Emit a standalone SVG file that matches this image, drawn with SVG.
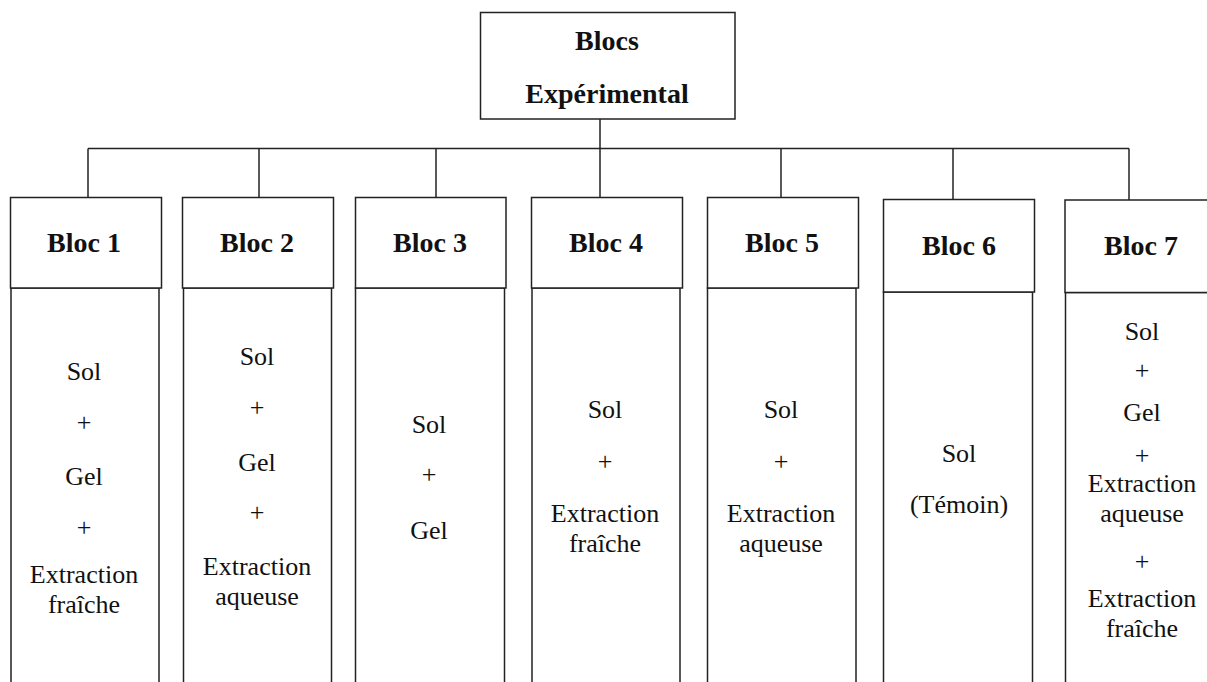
<svg xmlns="http://www.w3.org/2000/svg" width="1207" height="682" viewBox="0 0 1207 682">
<style>
rect{fill:#fff;stroke:#222;stroke-width:1.5}
.c line{stroke:#222;stroke-width:1.5}
text{font-family:"Liberation Serif","Times New Roman",serif;fill:#111;text-anchor:middle}
.h{font-weight:bold;font-size:28px}
.b{font-size:26px}
</style>
<rect x="0" y="0" width="1207" height="682" style="stroke:none"/>
<g class="c" id="connectors">
<line x1="600" y1="119" x2="600" y2="197.5"/>
<line x1="88" y1="148.5" x2="1129" y2="148.5"/>
<line x1="88" y1="148.5" x2="88" y2="197.5"/>
<line x1="259" y1="148.5" x2="259" y2="197.5"/>
<line x1="436" y1="148.5" x2="436" y2="197.5"/>
<line x1="781" y1="148.5" x2="781" y2="197.5"/>
<line x1="953" y1="148.5" x2="953" y2="199.5"/>
<line x1="1129" y1="148.5" x2="1129" y2="200"/>
</g>
<g id="root">
<rect x="480.5" y="12.5" width="254.5" height="106.5"/>
<text class="h" x="607" y="50">Blocs</text>
<text class="h" x="607" y="103">Expérimental</text>
</g>
<g id="bloc1">
<rect x="11" y="288" width="148" height="410"/>
<rect x="10.5" y="197.5" width="151" height="90.5"/>
<text class="h" x="84" y="252">Bloc 1</text>
<text class="b" x="84" y="380">Sol</text>
<text class="b" x="84" y="431">+</text>
<text class="b" x="84" y="485">Gel</text>
<text class="b" x="84" y="536">+</text>
<text class="b" x="84" y="583">Extraction</text>
<text class="b" x="84" y="613">fraîche</text>
</g>
<g id="bloc2">
<rect x="183.5" y="288" width="148" height="410"/>
<rect x="182.5" y="197.5" width="151" height="90.5"/>
<text class="h" x="257" y="252">Bloc 2</text>
<text class="b" x="257" y="365">Sol</text>
<text class="b" x="257" y="416">+</text>
<text class="b" x="257" y="471">Gel</text>
<text class="b" x="257" y="521">+</text>
<text class="b" x="257" y="575">Extraction</text>
<text class="b" x="257" y="605">aqueuse</text>
</g>
<g id="bloc3">
<rect x="355.5" y="288" width="149" height="410"/>
<rect x="355.5" y="197.5" width="150.5" height="90.5"/>
<text class="h" x="430" y="252">Bloc 3</text>
<text class="b" x="429" y="433">Sol</text>
<text class="b" x="429" y="483">+</text>
<text class="b" x="429" y="539">Gel</text>
</g>
<g id="bloc4">
<rect x="532" y="288" width="148" height="410"/>
<rect x="531.5" y="197.5" width="151" height="90.5"/>
<text class="h" x="606" y="252">Bloc 4</text>
<text class="b" x="605" y="418">Sol</text>
<text class="b" x="605" y="470">+</text>
<text class="b" x="605" y="522">Extraction</text>
<text class="b" x="605" y="552">fraîche</text>
</g>
<g id="bloc5">
<rect x="707.5" y="288" width="148.5" height="410"/>
<rect x="707.5" y="197.5" width="151" height="90.5"/>
<text class="h" x="782" y="252">Bloc 5</text>
<text class="b" x="781" y="418">Sol</text>
<text class="b" x="781" y="470">+</text>
<text class="b" x="781" y="522">Extraction</text>
<text class="b" x="781" y="552">aqueuse</text>
</g>
<g id="bloc6">
<rect x="883.5" y="292" width="149" height="410"/>
<rect x="883.5" y="199.5" width="151" height="92.5"/>
<text class="h" x="959" y="255">Bloc 6</text>
<text class="b" x="959" y="462">Sol</text>
<text class="b" x="959" y="513">(Témoin)</text>
</g>
<g id="bloc7">
<rect x="1065.5" y="292.5" width="150" height="410"/>
<rect x="1065" y="200" width="151" height="92.5"/>
<text class="h" x="1141" y="255">Bloc 7</text>
<text class="b" x="1142" y="340">Sol</text>
<text class="b" x="1142" y="379">+</text>
<text class="b" x="1142" y="421">Gel</text>
<text class="b" x="1142" y="464">+</text>
<text class="b" x="1142" y="492">Extraction</text>
<text class="b" x="1142" y="522">aqueuse</text>
<text class="b" x="1142" y="570">+</text>
<text class="b" x="1142" y="607">Extraction</text>
<text class="b" x="1142" y="637">fraîche</text>
</g>
</svg>
